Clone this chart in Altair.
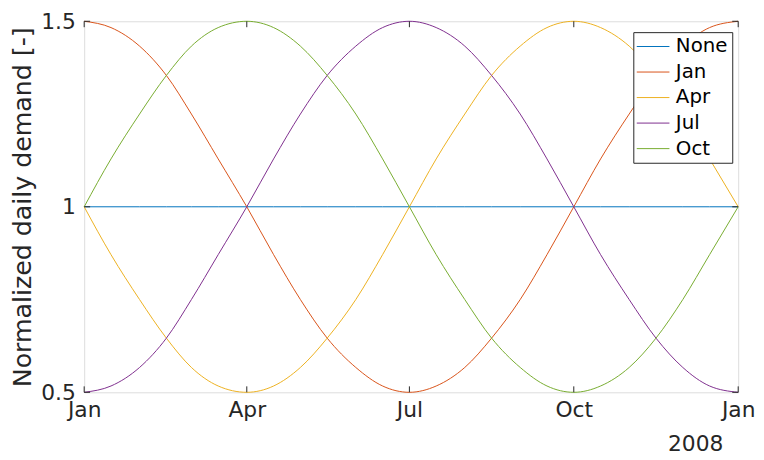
import altair as alt
import pandas as pd

# ---- data ----
dates = [
    "2008-01-01T00:00:00", "2008-01-16T00:00:00", "2008-02-01T00:00:00", "2008-02-16T00:00:00",
    "2008-03-01T00:00:00", "2008-03-16T00:00:00", "2008-04-01T00:00:00", "2008-04-16T00:00:00",
    "2008-05-01T00:00:00", "2008-05-16T00:00:00", "2008-06-01T00:00:00", "2008-06-16T00:00:00",
    "2008-07-01T00:00:00", "2008-07-16T00:00:00", "2008-08-01T00:00:00", "2008-08-16T00:00:00",
    "2008-09-01T00:00:00", "2008-09-16T00:00:00", "2008-10-01T00:00:00", "2008-10-16T00:00:00",
    "2008-11-01T00:00:00", "2008-11-16T00:00:00", "2008-12-01T00:00:00", "2008-12-16T00:00:00",
    "2009-01-01T00:00:00",
]
none_vals = [1.0, 1.0, 1.0, 1.0, 1.0, 1.0, 1.0, 1.0, 1.0, 1.0, 1.0, 1.0, 1.0,
             1.0, 1.0, 1.0, 1.0, 1.0, 1.0, 1.0, 1.0, 1.0, 1.0, 1.0, 1.0]
jan_vals = [1.5, 1.483, 1.433, 1.354, 1.25, 1.129, 1.0, 0.871, 0.75, 0.646, 0.567, 0.517, 0.5,
            0.517, 0.567, 0.646, 0.75, 0.871, 1.0, 1.129, 1.25, 1.354, 1.433, 1.483, 1.5]
apr_vals = [1.0, 0.871, 0.75, 0.646, 0.567, 0.517, 0.5, 0.517, 0.567, 0.646, 0.75, 0.871, 1.0,
            1.129, 1.25, 1.354, 1.433, 1.483, 1.5, 1.483, 1.433, 1.354, 1.25, 1.129, 1.0]
jul_vals = [0.5, 0.517, 0.567, 0.646, 0.75, 0.871, 1.0, 1.129, 1.25, 1.354, 1.433, 1.483, 1.5,
            1.483, 1.433, 1.354, 1.25, 1.129, 1.0, 0.871, 0.75, 0.646, 0.567, 0.517, 0.5]
oct_vals = [1.0, 1.129, 1.25, 1.354, 1.433, 1.483, 1.5, 1.483, 1.433, 1.354, 1.25, 1.129, 1.0,
            0.871, 0.75, 0.646, 0.567, 0.517, 0.5, 0.517, 0.567, 0.646, 0.75, 0.871, 1.0]

series_names = ["None", "Jan", "Apr", "Jul", "Oct"]
series_colors = ["#0072BD", "#D95319", "#EDB120", "#7E2F8E", "#77AC30"]

x_tick_dates = ["2008-01-01T00:00:00", "2008-04-01T00:00:00", "2008-07-01T00:00:00",
                "2008-10-01T00:00:00", "2009-01-01T00:00:00"]
y_tick_values = [0.5, 1.0, 1.5]
year_label = ["2008"]
y_title = "Normalized daily demand [-]"

# ---- build table ----
rows = []
for name, vals in zip(series_names, [none_vals, jan_vals, apr_vals, jul_vals, oct_vals]):
    for d, v in zip(dates, vals):
        rows.append({"date": d, "value": v, "series": name})
df = pd.DataFrame(rows)
tick_df = pd.DataFrame({"date": x_tick_dates})
ytick_df = pd.DataFrame({"value": y_tick_values})
year_df = pd.DataFrame({"t": year_label})

W, H = 661, 375
INK = "#262626"
FONT = "DejaVu Sans"

x_dt = [alt.DateTime(year=2008, month=1, date=1), alt.DateTime(year=2008, month=4, date=1),
        alt.DateTime(year=2008, month=7, date=1), alt.DateTime(year=2008, month=10, date=1),
        alt.DateTime(year=2009, month=1, date=1)]
x_scale = alt.Scale(domain=[x_dt[0], x_dt[-1]], nice=False)
y_scale = alt.Scale(domain=[0.5, 1.5], nice=False, zero=False)

lines = alt.Chart(df).mark_line(strokeWidth=1, interpolate="monotone").encode(
    x=alt.X("date:T", scale=x_scale,
            axis=alt.Axis(values=x_dt, format="%b", title=None, ticks=False, tickSize=0,
                          domain=False, grid=False, labelFontSize=22, labelColor=INK,
                          labelFont=FONT, labelPadding=7, labelFlush=False, labelOverlap=False)),
    y=alt.Y("value:Q", scale=y_scale,
            axis=alt.Axis(values=y_tick_values, format="~g", title=y_title, ticks=False,
                          tickSize=0, domain=False, grid=False, labelFontSize=22,
                          labelColor=INK, labelFont=FONT, labelPadding=9, labelFlush=False,
                          titleFontSize=25.5, titleFont=FONT, titleColor=INK,
                          titleFontWeight="normal", titlePadding=5)),
    color=alt.Color("series:N", scale=alt.Scale(domain=series_names, range=series_colors),
                    legend=alt.Legend(title=None, orient="none", legendX=555, legendY=11,
                                      labelFontSize=20, labelFont=FONT, labelColor="#000000",
                                      symbolType="M-1.65,0H1.65", symbolSize=400,
                                      symbolStrokeWidth=1, symbolOffset=5.5, labelOffset=12.5,
                                      rowPadding=4.8, columnPadding=0, padding=4,
                                      strokeColor=INK, fillColor="white", cornerRadius=0)),
)

bottom_ticks = alt.Chart(tick_df).mark_rule(color=INK, strokeWidth=1).encode(
    x=alt.X("date:T", scale=x_scale), y=alt.value(H), y2=alt.value(H - 6))
top_ticks = alt.Chart(tick_df).mark_rule(color=INK, strokeWidth=1).encode(
    x=alt.X("date:T", scale=x_scale), y=alt.value(0), y2=alt.value(6))
left_ticks = alt.Chart(ytick_df).mark_rule(color=INK, strokeWidth=1).encode(
    y=alt.Y("value:Q", scale=y_scale), x=alt.value(0), x2=alt.value(6))
right_ticks = alt.Chart(ytick_df).mark_rule(color=INK, strokeWidth=1).encode(
    y=alt.Y("value:Q", scale=y_scale), x=alt.value(W - 6), x2=alt.value(W))

year_text = alt.Chart(year_df).mark_text(fontSize=22, font=FONT, color=INK, align="center",
                                         baseline="alphabetic").encode(
    text="t:N", x=alt.value(618), y=alt.value(434))

chart = alt.layer(lines, bottom_ticks, top_ticks, left_ticks, right_ticks, year_text).properties(
    width=W, height=H,
    autosize=alt.AutoSizeParams(type="none"),
    padding={"left": 77, "top": 11, "right": 18, "bottom": 66},
).configure_view(stroke=INK, strokeWidth=1).configure(background="white")

chart.save("out.html", embed_options={"renderer": "svg", "actions": False})
